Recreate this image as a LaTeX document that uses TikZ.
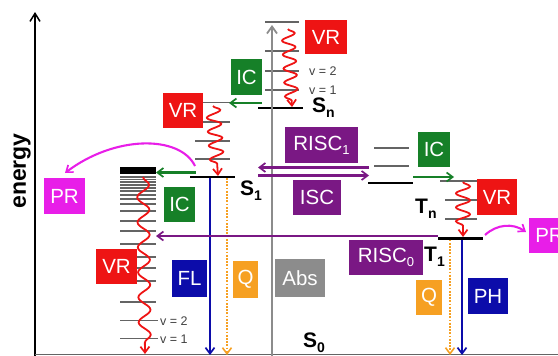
\documentclass[tikz,border=0pt]{standalone}
\usepackage{fontspec}
\setmainfont{Liberation Sans}
\usetikzlibrary{arrows.meta,decorations.pathmorphing}
\definecolor{vrred}{RGB}{238,20,20}
\definecolor{icgreen}{RGB}{22,128,40}
\definecolor{iscpurple}{RGB}{122,24,132}
\definecolor{prmag}{RGB}{232,30,232}
\definecolor{flblue}{RGB}{12,12,170}
\definecolor{qorange}{RGB}{246,160,34}
\definecolor{absgray}{RGB}{140,140,140}
\definecolor{levgray}{RGB}{100,100,100}
\newcommand{\lvsub}[1]{\raisebox{-5pt}{\fontsize{14}{14}\selectfont #1}}
\newcommand{\bxsub}[1]{\raisebox{-4pt}{\fontsize{13}{13}\selectfont #1}}
\begin{document}
\begin{tikzpicture}[x=1pt,y=-1pt,
  lbl/.style={rectangle, inner sep=0pt, text=white, font=\fontsize{20.5}{20.5}\selectfont},
  vrbox/.style={lbl, fill=vrred},
  icbox/.style={lbl, fill=icgreen},
  iscbox/.style={lbl, fill=iscpurple},
  prbox/.style={lbl, fill=prmag},
  flbox/.style={lbl, fill=flblue},
  qbox/.style={lbl, fill=qorange},
  absbox/.style={lbl, fill=absgray},
  lev/.style={levgray, line width=1.35pt},
  blev/.style={black, line width=2.5pt},
  statelbl/.style={font=\fontsize{21}{21}\selectfont\bfseries, inner sep=0pt, anchor=base west},
  vlbl/.style={font=\fontsize{12.5}{12.5}\selectfont, text=black!75, inner sep=0pt},
  tip/.style={-{Straight Barb[length=6pt,width=9pt,line width=1.7pt]}},
  conn/.style={tip, line width=2.1pt},
  wavy/.style={vrred, line width=1.8pt, tip, decorate,
     decoration={snake, amplitude=#1, segment length=14pt, post length=6pt, pre length=0pt}},
  wavy/.default=6.5pt,
  qline/.style={qorange, line width=2pt, dash pattern=on 1.8pt off 1.4pt,
     -{Straight Barb[length=6pt,width=9pt,line width=1.6pt,sep=0pt]}}
]
\useasboundingbox (0,0) rectangle (558,356);

% ---- axes ----
\coordinate (axb) at (35,356);
\coordinate (axt) at (35,12);
\draw[black, line width=1.6pt, -{Straight Barb[length=8pt,width=10pt,line width=1.5pt]}] (axb) -- (axt);
\coordinate (bl) at (35,354.5);
\coordinate (br) at (558,354.5);
\draw[levgray, line width=1.6pt] (bl) -- (br);
\node[rotate=90, anchor=base, font=\fontsize{23}{23}\selectfont\bfseries, inner sep=0pt] (en) at (26,171) {energy};

% ---- Sn levels ----
\foreach \y in {22,51,71,90} \draw[lev] (265,\y) -- (299,\y);
\draw[blev] (258,108) -- (303,108);
% ---- S1 levels ----
\draw[lev] (203,102.5) -- (232,102.5);
\foreach \y in {122,141,159} \draw[lev] (195,\y) -- (230,\y);
\draw[blev] (190,177) -- (235,177);
% ---- S0 manifold (left) ----
\fill[black] (120,167) rectangle (156,173.5);
\foreach \y in {177,179.5,182,185,188,191,195,199,204,211,221,231,244,257,268,281,302}
  \draw[lev] (120,\y) -- (156,\y);
\draw[lev] (120,320.5) -- (158,320.5);
\draw[lev] (120,338.5) -- (158,338.5);
% ---- Tn levels ----
\foreach \y in {148,166} \draw[lev] (374,\y) -- (409,\y);
\draw[blev] (368,183) -- (413,183);
% ---- T1 levels ----
\draw[lev] (440,181) -- (477,181);
\foreach \y in {200,219} \draw[lev] (445,\y) -- (477,\y);
\draw[blev] (438,238.5) -- (483,238.5);

% ---- coordinates for transitions ----
\coordinate (absb) at (272,356);
\coordinate (abst) at (272,25);
\coordinate (flt) at (210,178);
\coordinate (flb) at (210,355);
\coordinate (qt) at (227,178);
\coordinate (qb) at (227,355);
\coordinate (qrt) at (450,239.5);
\coordinate (qrb) at (450,355);
\coordinate (pht) at (462,239.5);
\coordinate (phb) at (462,355);
\coordinate (snvt) at (288,29);
\coordinate (snvb) at (292,107);
\coordinate (s1vt) at (213,106);
\coordinate (s1vb) at (218,176);
\coordinate (s0vt) at (143,177);
\coordinate (s0vb) at (145,354);
\coordinate (t1vt) at (463,182);
\coordinate (t1vb) at (463,237);
\coordinate (ic1a) at (262,103);
\coordinate (ic1b) at (229,103);
\coordinate (ic2a) at (196,172.5);
\coordinate (ic2b) at (156,172.5);
\coordinate (ic3a) at (413,177);
\coordinate (ic3b) at (454,177);
\coordinate (r1a) at (369,167.5);
\coordinate (r1b) at (258,167.5);
\coordinate (isa) at (258,175.5);
\coordinate (isb) at (369,175.5);
\coordinate (r0a) at (438,236);
\coordinate (r0b) at (156,236);
\coordinate (pr1a) at (195,166);
\coordinate (pr1b) at (65,173);
\coordinate (pr2a) at (485,235);
\coordinate (pr2b) at (526,232);

% ---- vertical transitions ----
\draw[absgray, line width=2.5pt, -{Straight Barb[length=7pt,width=10pt,line width=1.8pt]}] (absb) -- (abst);
\draw[conn, flblue] (flt) -- (flb);
\draw[qline] (qt) -- (qb);
\draw[qline] (qrt) -- (qrb);
\draw[conn, flblue] (pht) -- (phb);

% ---- vibrational relaxation ----
\draw[wavy=6.5pt] (snvt) -- (snvb);
\draw[wavy=7pt] (s1vt) -- (s1vb);
\draw[wavy=6pt, decoration={segment length=25pt}] (s0vt) -- (s0vb);
\draw[wavy=7pt] (t1vt) -- (t1vb);

% ---- horizontal transitions ----
\draw[conn, icgreen] (ic1a) -- (ic1b);
\draw[conn, icgreen] (ic2a) -- (ic2b);
\draw[conn, icgreen] (ic3a) -- (ic3b);
\draw[conn, iscpurple] (r1a) -- (r1b);
\draw[conn, iscpurple] (isa) -- (isb);
\draw[conn, iscpurple] (r0a) -- (r0b);
\draw[conn, prmag] (pr1a) .. controls (180,135) and (115,135) .. (pr1b);
\draw[conn, prmag] (pr2a) .. controls (497,224) and (513,223) .. (pr2b);

% ---- labels ----
\node[vrbox, minimum width=42pt, minimum height=34pt] (vr1) at (326,37) {VR};
\node[icbox, minimum width=31pt, minimum height=36pt] (ic1) at (246.5,77) {IC};
\node[vrbox, minimum width=40pt, minimum height=35pt] (vr2) at (183,110.5) {VR};
\node[prbox, minimum width=41pt, minimum height=36pt] (pr1) at (64.5,196) {PR};
\node[icbox, minimum width=31pt, minimum height=35pt] (ic2) at (179.5,204.5) {IC};
\node[vrbox, minimum width=41pt, minimum height=35pt] (vr3) at (116.5,266.5) {VR};
\node[flbox, minimum width=35pt, minimum height=37pt] (fl) at (189.5,278.5) {FL};
\node[qbox, minimum width=25pt, minimum height=37pt] (q1) at (245.5,279.5) {Q};
\node[absbox, minimum width=50pt, minimum height=38pt] (abs) at (300,278) {Abs};
\node[iscbox, minimum width=73pt, minimum height=36pt] (risc1) at (321.5,145) {RISC\bxsub{1}};
\node[iscbox, minimum width=48pt, minimum height=35pt] (isc) at (317,197.5) {ISC};
\node[icbox, minimum width=32pt, minimum height=35pt] (ic3) at (434,149.5) {IC};
\node[vrbox, minimum width=40pt, minimum height=36pt] (vr4) at (497,197) {VR};
\node[prbox, minimum width=41pt, minimum height=35pt] (pr2) at (549.5,235.5) {PR};
\node[iscbox, minimum width=74pt, minimum height=35pt] (risc0) at (386,257.5) {RISC\bxsub{0}};
\node[qbox, minimum width=26pt, minimum height=35pt] (q2) at (429,297.5) {Q};
\node[flbox, minimum width=40pt, minimum height=36pt] (ph) at (488,296) {PH};

% ---- state labels ----
\node[statelbl] (sn) at (312,112) {S\lvsub{n}};
\node[statelbl] (s1) at (240,195) {S\lvsub{1}};
\node[statelbl] (s0) at (303,347) {S\lvsub{0}};
\node[statelbl] (tn) at (415,213) {T\lvsub{n}};
\node[statelbl] (t1) at (424,261) {T\lvsub{1}};

% ---- vibrational quantum numbers ----
\node[vlbl, anchor=west] (v2a) at (309,71) {v = 2};
\node[vlbl, anchor=west] (v1a) at (309,90) {v = 1};
\node[vlbl, anchor=west] (v2b) at (160,321) {v = 2};
\node[vlbl, anchor=west] (v1b) at (160,339) {v = 1};
\end{tikzpicture}
\end{document}
